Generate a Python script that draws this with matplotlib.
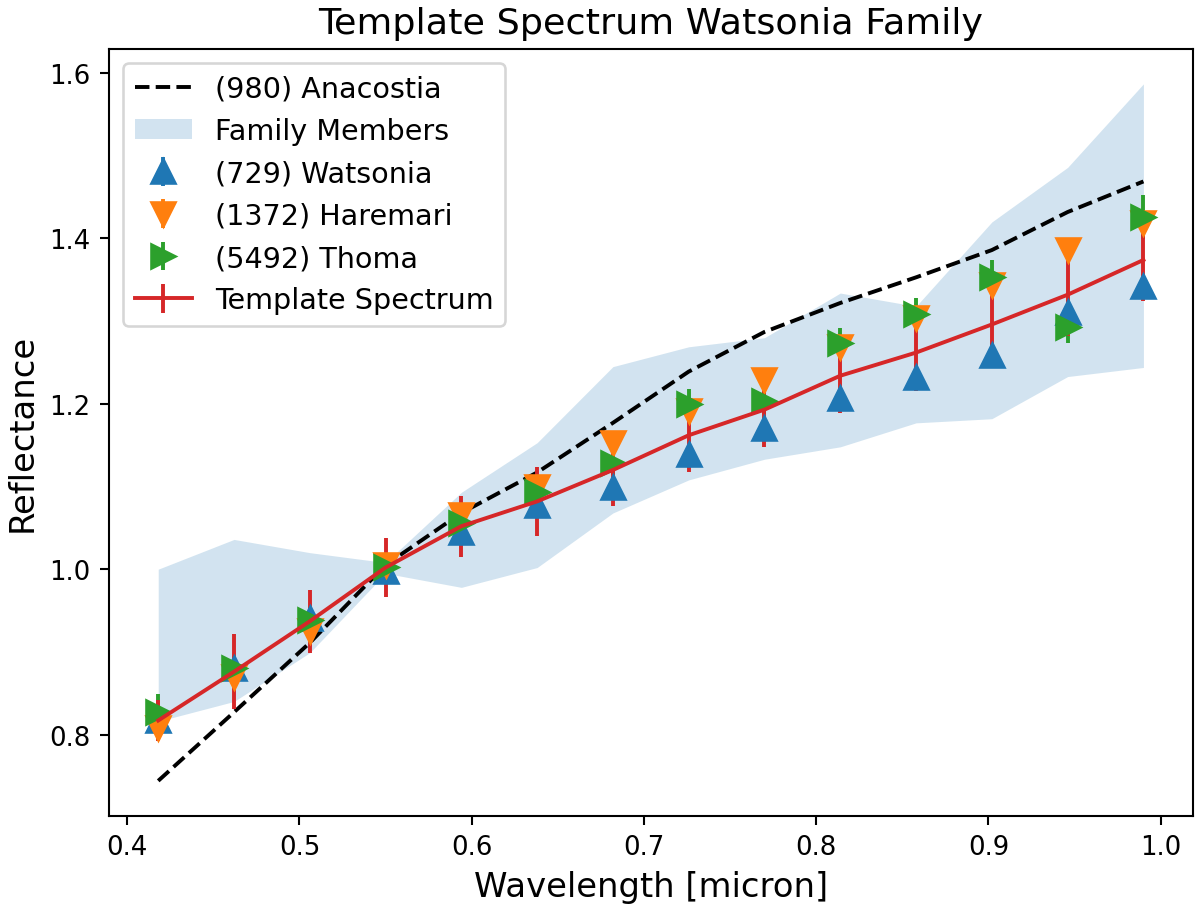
import numpy as np
import matplotlib.pyplot as plt

# wavelengths (micron)
wave = np.array([0.418, 0.462, 0.506, 0.550, 0.594, 0.638, 0.682,
                 0.726, 0.770, 0.814, 0.858, 0.902, 0.946, 0.990])

# (980) Anacostia
anacostia = [0.744, 0.827, 0.911, 1.005, 1.068, 1.117, 1.177,
             1.239, 1.287, 1.322, 1.353, 1.386, 1.432, 1.469]

# family members envelope
fam_low = [0.816, 0.840, 0.899, 0.995, 0.978, 1.002, 1.068,
           1.108, 1.133, 1.148, 1.177, 1.182, 1.233, 1.244]
fam_high = [1.000, 1.036, 1.020, 1.008, 1.093, 1.153, 1.245,
            1.269, 1.280, 1.334, 1.318, 1.420, 1.486, 1.587]

# individual members
watsonia = [0.818, 0.881, 0.941, 0.998, 1.045, 1.078, 1.099,
            1.139, 1.171, 1.207, 1.232, 1.259, 1.311, 1.342]
watsonia_err = [0.012, 0.012, 0.012, 0.010, 0.012, 0.012, 0.012,
                0.012, 0.012, 0.012, 0.014, 0.014, 0.015, 0.015]
haremari = [0.808, 0.869, 0.925, 1.005, 1.066, 1.100, 1.153,
            1.191, 1.229, 1.269, 1.304, 1.344, 1.386, 1.419]
haremari_err = [0.012, 0.012, 0.012, 0.010, 0.012, 0.012, 0.012,
                0.012, 0.012, 0.014, 0.014, 0.015, 0.015, 0.015]
thoma = [0.827, 0.880, 0.939, 1.003, 1.056, 1.093, 1.129,
         1.200, 1.203, 1.274, 1.309, 1.354, 1.293, 1.426]
thoma_err = [0.022, 0.015, 0.015, 0.012, 0.015, 0.015, 0.015,
             0.018, 0.015, 0.018, 0.019, 0.020, 0.020, 0.027]

# template spectrum
template = [0.817, 0.876, 0.937, 1.002, 1.052, 1.082, 1.120,
            1.162, 1.193, 1.234, 1.262, 1.296, 1.332, 1.374]
template_err = [0.025, 0.045, 0.038, 0.036, 0.037, 0.042, 0.044,
                0.044, 0.045, 0.045, 0.047, 0.051, 0.050, 0.050]

fig = plt.figure(figsize=(6.4, 4.8693), dpi=187.5)
ax = fig.add_axes([0.0908, 0.1055, 0.9031, 0.8397])

fill = ax.fill_between(wave, fam_low, fam_high, color="C0", alpha=0.2, lw=0,
                       label="Family Members")
line, = ax.plot(wave, anacostia, "k--", label="(980) Anacostia")
e1 = ax.errorbar(wave, watsonia, yerr=watsonia_err, fmt="^", color="C0", ms=9,
                 label="(729) Watsonia")
e2 = ax.errorbar(wave, haremari, yerr=haremari_err, fmt="v", color="C1", ms=9,
                 label="(1372) Haremari")
e3 = ax.errorbar(wave, thoma, yerr=thoma_err, fmt=">", color="C2", ms=9,
                 label="(5492) Thoma")
e4 = ax.errorbar(wave, template, yerr=template_err, color="C3", lw=1.5,
                 label="Template Spectrum")

ax.set_xticks([0.4, 0.5, 0.6, 0.7, 0.8, 0.9, 1.0])
ax.set_yticks([0.8, 1.0, 1.2, 1.4, 1.6])
ax.set_xlabel("Wavelength [micron]", fontsize=13)
ax.set_ylabel("Reflectance", fontsize=13)
ax.set_title("Template Spectrum Watsonia Family", fontsize=14)
ax.legend(handles=[line, fill, e1, e2, e3, e4], loc="upper left", fontsize=11)

fig.savefig("out.png", dpi=187.5)
